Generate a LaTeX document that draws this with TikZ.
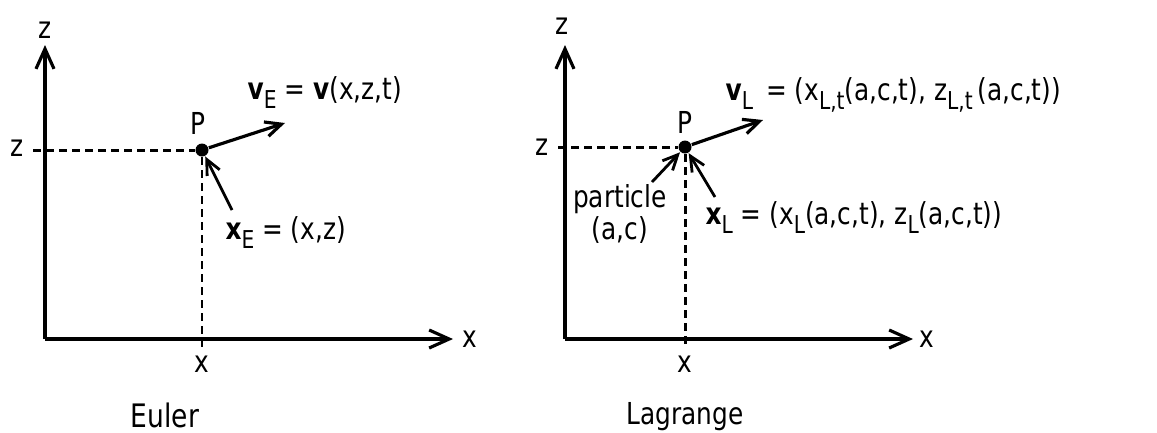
\documentclass[tikz,border=0pt]{standalone}
\usepackage{fontspec}
\setmainfont{DejaVu Sans}[FakeStretch=0.82]
\usepackage{tikz}
\usetikzlibrary{arrows.meta,positioning}
\newcommand\lowidx[1]{\raisebox{-0.6ex}{\fontsize{7}{8}\selectfont #1}}

\begin{document}
\begin{tikzpicture}[
  x=0.01cm, y=-0.01cm,
  font=\fontsize{8.6}{10}\selectfont,
  axis/.style={-{Straight Barb[length=2mm, width=1.8mm]}, line width=.9pt},
  guide/.style={line width=.85pt, dash pattern=on 0.75mm off 0.55mm},
  vec/.style={-{Straight Barb[length=1.6mm, width=1.5mm]}, line width=.9pt},
  pointer/.style={-{Straight Barb[length=1.5mm, width=1.4mm]}, line width=.8pt},
  dot/.style={circle, fill=black, inner sep=0pt, minimum size=1.3mm},
  lbl/.style={inner sep=0pt}
]
  \useasboundingbox (0,0) rectangle (1157,432);

  % Euler
  \coordinate (o1) at (45,339);
  \coordinate (ztop1) at (45,45);
  \coordinate (xend1) at (453,339);
  \coordinate (zdash1) at (33,150);
  \coordinate (xdash1) at (202,347);
  \node[dot] (p1) at (202,150) {};
  \draw[axis] (o1) -- (ztop1);
  \draw[axis] (o1) -- (xend1);
  \draw[guide] (zdash1) -- (p1);
  \draw[guide] (p1) -- (xdash1);
  \node[lbl] (zax1) at (45,30) {z};
  \node[lbl] (xax1) at (470,339) {x};
  \node[lbl] (zval1) at (17,148) {z};
  \node[lbl] (xval1) at (202,364) {x};
  \node[lbl] (plab1) at (198,123) {P};
  \coordinate (vtip1) at (285,123);
  \draw[vec] (p1) -- (vtip1);
  \node[lbl, anchor=base west] (vlab1) at (247,99) {\textbf{v}\lowidx{E} = \textbf{v}(x,z,t)};
  \node[lbl, anchor=base west] (xlab1) at (225,239) {\textbf{x}\lowidx{E} = (x,z)};
  \coordinate (xfrom1) at (232,210);
  \draw[pointer] (xfrom1) -- (p1);
  \node[lbl] (name1) at (165,415) {\fontsize{9.2}{10}\selectfont Euler};

  % Lagrange
  \coordinate (o2) at (565,339);
  \coordinate (ztop2) at (565,45);
  \coordinate (xend2) at (913,339);
  \coordinate (zdash2) at (558,147);
  \coordinate (xdash2) at (685,347);
  \node[dot] (p2) at (685,147) {};
  \draw[axis] (o2) -- (ztop2);
  \draw[axis] (o2) -- (xend2);
  \draw[guide] (zdash2) -- (p2);
  \draw[guide] (p2) -- (xdash2);
  \node[lbl] (zax2) at (562,26) {z};
  \node[lbl] (xax2) at (927,339) {x};
  \node[lbl] (zval2) at (542,147) {z};
  \node[lbl] (xval2) at (685,364) {x};
  \node[lbl] (plab2) at (685,122) {P};
  \coordinate (vtip2) at (763,120);
  \draw[vec] (p2) -- (vtip2);
  \node[lbl, anchor=base west] (vlab2) at (725,100) {\textbf{v}\lowidx{L} \,= (x\lowidx{L,t}(a,c,t), z\lowidx{L,t}\,(a,c,t))};
  \node[lbl, align=center] (part2) at (620,214) {particle\\[-1pt](a,c)};
  \coordinate (pfrom2) at (652,182);
  \draw[pointer] (pfrom2) -- (p2);
  \node[lbl, anchor=base west] (xlab2) at (705,224) {\textbf{x}\lowidx{L} = (x\lowidx{L}(a,c,t), z\lowidx{L}(a,c,t))};
  \coordinate (xfrom2) at (715,197);
  \draw[pointer] (xfrom2) -- (p2);
  \node[lbl] (name2) at (685,417) {Lagrange};
\end{tikzpicture}
\end{document}
